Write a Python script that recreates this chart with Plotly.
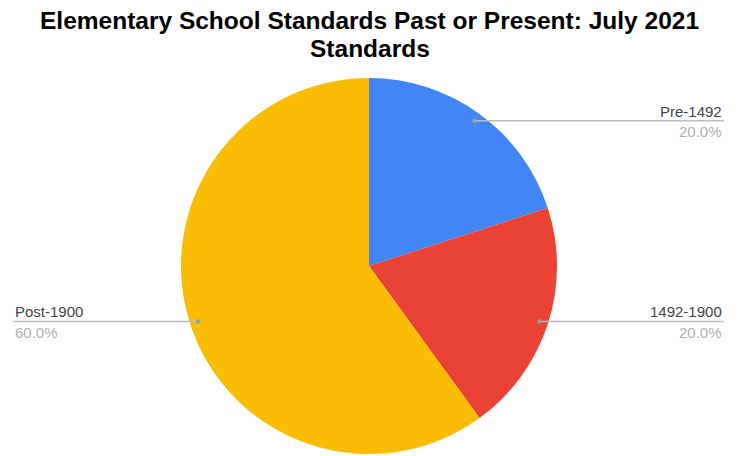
import math
import plotly.graph_objects as go

labels = ["Pre-1492", "1492-1900", "Post-1900"]
values = [20, 20, 60]
colors = ["#4285F4", "#EA4335", "#FBBC04"]
title_lines = ["Elementary School Standards Past or Present: July 2021", "Standards"]

W, H = 739, 456
CX, CY, R = 369, 266, 188  # pie centre/radius in pixels
DOT_R = 0.955 * R
LEFT_X, RIGHT_X = 13, 724

def px(x):
    return x / W

def py(y):
    return 1 - y / H

fig = go.Figure(go.Pie(
    labels=labels, values=values, sort=False, direction="clockwise", rotation=0,
    marker=dict(colors=colors, line=dict(width=0)),
    textinfo="none", hoverinfo="label+percent", showlegend=False,
    domain=dict(x=[px(CX - R), px(CX + R)], y=[py(CY + R), py(CY - R)]),
))

shapes, annotations = [], []
total = sum(values)
cum = 0
for lab, v in zip(labels, values):
    mid = (cum + v / 2) / total * 2 * math.pi
    cum += v
    dx, dy = math.sin(mid) * DOT_R, -math.cos(mid) * DOT_R
    x0, y0 = CX + dx, CY + dy
    right = dx >= 0
    xe = RIGHT_X if right else LEFT_X
    shapes.append(dict(type="line", xref="paper", yref="paper",
                       x0=px(x0), y0=py(y0), x1=px(xe), y1=py(y0),
                       line=dict(color="#bdbdbd", width=1.5)))
    shapes.append(dict(type="circle", xref="paper", yref="paper",
                       x0=px(x0 - 2.2), x1=px(x0 + 2.2), y0=py(y0 - 2.2), y1=py(y0 + 2.2),
                       fillcolor="#9e9e9e", line=dict(width=0)))
    anchor = "right" if right else "left"
    annotations.append(dict(xref="paper", yref="paper", x=px(xe), y=py(y0 + 1),
                            text=lab, showarrow=False, xanchor=anchor, yanchor="bottom",
                            font=dict(family="Liberation Sans, Arial", size=15, color="#444444")))
    annotations.append(dict(xref="paper", yref="paper", x=px(xe), y=py(y0 + 0.5),
                            text=f"{v / total * 100:.1f}%", showarrow=False, xanchor=anchor,
                            yanchor="top",
                            font=dict(family="Liberation Sans, Arial", size=15, color="#b0b0b0")))

for i, line in enumerate(title_lines):
    annotations.append(dict(xref="paper", yref="paper", x=0.5, y=py(21 + 27 * i),
                            text=f"<b>{line}</b>", showarrow=False, xanchor="center",
                            yanchor="middle",
                            font=dict(family="Liberation Sans, Arial", size=24.5, color="#000000")))

fig.update_layout(
    width=W, height=H, margin=dict(l=0, r=0, t=0, b=0),
    paper_bgcolor="white", plot_bgcolor="white",
    shapes=shapes, annotations=annotations,
)

fig.write_html("out.html", config={"displayModeBar": False},
               post_script="document.body.style.margin='0';")
